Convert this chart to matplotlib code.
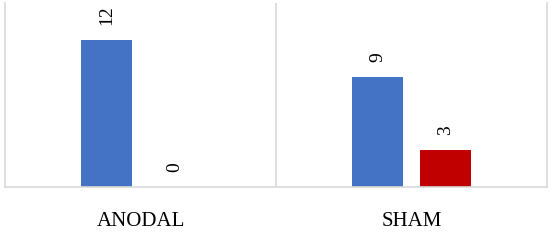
import matplotlib.pyplot as plt
import numpy as np

# Datos
categorias = ["ANODAL", "SHAM"]
serie_azul = [12, 9]
serie_roja = [0, 3]

plt.rcParams['font.family'] = ['Liberation Serif', 'DejaVu Serif']

fig = plt.figure(figsize=(5.6, 2.52), dpi=100)
ax = fig.add_axes([5 / 560, 65 / 252, 542 / 560, 184 / 252])

x = np.arange(len(categorias))
ancho = 0.185
sep = 0.066
desp = (ancho + sep) / 2

barras_a = ax.bar(x - desp, serie_azul, ancho, color='#4472c4')
barras_r = ax.bar(x + desp, serie_roja, ancho, color='#c00000')

for barras in (barras_a, barras_r):
    for b in barras:
        ax.annotate(str(int(b.get_height())),
                    (b.get_x() + b.get_width() / 2, b.get_height()),
                    xytext=(0, 11), textcoords='offset points',
                    rotation=90, ha='center', va='bottom', fontsize=14)

ax.set_xlim(-0.5, 1.5)
ax.set_ylim(0, 15.05)
ax.set_yticks([])
ax.set_xticks(x)
ax.set_xticklabels(categorias, fontsize=15)
ax.tick_params(axis='x', length=0, pad=18)

ax.axvline(0.5, color='#d9d9d9', lw=1.2)
for s in ['left', 'right', 'bottom']:
    ax.spines[s].set_color('#d9d9d9')
    ax.spines[s].set_linewidth(1.2)
ax.spines['top'].set_visible(False)

plt.savefig("out.png", dpi=100)
plt.close()
